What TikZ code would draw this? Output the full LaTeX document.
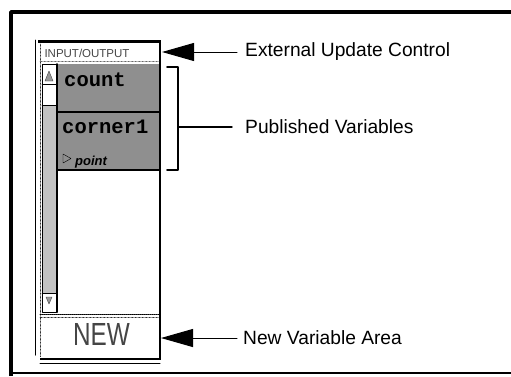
\documentclass[tikz,border=0pt]{standalone}
\usepackage{graphicx}
\usepackage{fontspec}
\setmainfont{Liberation Sans}
\setmonofont{Liberation Mono}
\usetikzlibrary{arrows.meta}
\definecolor{zzzzzz}{rgb}{0.6,0.6,0.6}
\definecolor{cqcqcq}{rgb}{0.76,0.76,0.76}
\definecolor{uuuuuu}{rgb}{0.27,0.27,0.27}
\definecolor{aqaqaq}{rgb}{0.56,0.56,0.56}

\begin{document}
\begin{tikzpicture}[line cap=round,line join=round,>={Triangle[length=32pt,width=18pt]},x=1pt,y=-1pt,
	lbl/.style={anchor=west,inner sep=0pt,font=\fontsize{19.2}{22}\selectfont},
	varname/.style={anchor=base west,inner sep=0pt,font=\ttfamily\bfseries\fontsize{20.5}{22}\selectfont}]
	\useasboundingbox (0,0) rectangle (511,376);
	% outer frame
	\draw [line width=3.5pt,line cap=butt] (11,376) -- (11,12) -- (511,12);
	\draw [line width=1.2pt] (11,373) -- (511,373);
	% variable window
	\draw [line width=1pt] (35,40) -- (35,355);
	\draw [densely dotted] (40,44) -- (40,357);
	\draw [line width=3pt,line cap=butt] (38,41.5) -- (161,41.5);
	\draw [line width=2.5pt,line cap=butt] (160,40) -- (160,359);
	\draw [uuuuuu,densely dotted] (40,61.5) -- (159,61.5);
		\node [font=\fontsize{11.5}{12}\selectfont,text=uuuuuu,inner sep=0pt] (io) at (87,53) {INPUT/OUTPUT};
	% scroll bar
	\fill [cqcqcq] (42,105) rectangle (56,293);
	\draw [line width=1pt] (42,64) rectangle (56,312);
	\draw (42,84) -- (56,84);
	\draw (42,105) -- (56,105);
	\draw (42,293) -- (56,293);
	\filldraw [fill=zzzzzz,draw=uuuuuu] (45,81) -- (49,71) -- (53,81) -- cycle;
	\filldraw [fill=zzzzzz,draw=uuuuuu] (46,297) -- (49,304) -- (52,297) -- cycle;
	% published rows
	\fill [aqaqaq] (57,64) rectangle (159,111);
	\fill [aqaqaq] (57,113) rectangle (159,169);
	\draw [line width=2pt] (57,64) -- (57,312);
	\draw [line width=1.5pt] (57,112) -- (159,112);
	\draw [line width=1.5pt] (57,170) -- (159,170);
		\node [varname] (cnt) at (64,86) {count};
		\node [varname] (crn) at (62,133) {corner1};
	\draw (63,154) -- (71,158.5) -- (63,163) -- cycle;
		\node [anchor=base west,inner sep=0pt,font=\bfseries\itshape\fontsize{13}{14}\selectfont] (pt) at (75,165) {point};
	% new variable area
	\draw [densely dotted,line width=1pt] (40,314) -- (159,314);
	\draw [densely dotted] (40,317) -- (159,317);
		\node [text=uuuuuu,inner sep=0pt,font=\fontsize{32}{34}\selectfont] (nw) at (101.5,334.5) {\scalebox{.76}[1]{NEW}};
	\draw [line width=2.5pt,line cap=butt] (40,359) -- (161,359);
	\draw [line width=1pt] (40,363) -- (160,363);
	% labels
	\node [lbl] (ext) at (245,52) {External Update Control};
	\node [lbl] (pub) at (245,127) {Published Variables};
	\node [lbl] (nva) at (243,338) {New Variable Area};
	\coordinate (iotip) at (162,52);
	\coordinate (brmid) at (178,127);
	\coordinate (nwtip) at (161,338);
	\draw [->,line width=1pt,shorten <=8pt] (ext.west) -- (iotip);
	\draw [->,line width=1pt,shorten <=6pt] (nva.west) -- (nwtip);
	\draw [line width=1.8pt] (167,67) -- (178,67) -- (178,170) -- (167,170);
	\draw [line width=1.4pt,shorten <=13pt] (pub.west) -- (brmid);
\end{tikzpicture}
\end{document}
